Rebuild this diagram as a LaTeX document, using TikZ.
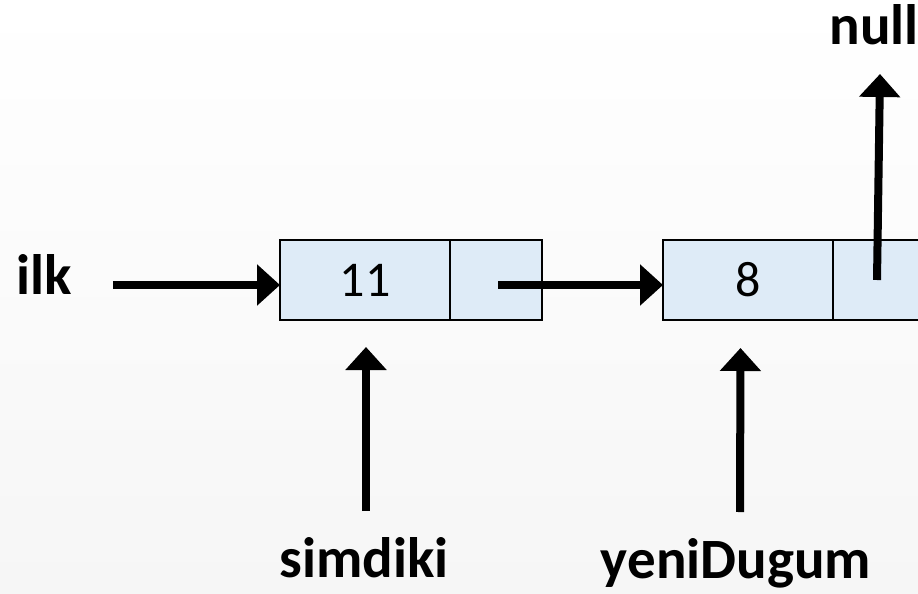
\documentclass[tikz,border=0pt]{standalone}
\usepackage{fontspec}
\setmainfont{Carlito}
\usetikzlibrary{arrows.meta,positioning}
\definecolor{cellblue}{HTML}{DEEBF7}
\definecolor{pagegrey}{HTML}{F6F6F6}

\begin{document}
\begin{tikzpicture}[x=1pt,y=-1pt,
  cell/.style={draw=black,fill=cellblue,line width=2.2pt,minimum height=80pt,inner sep=0pt,outer sep=0pt},
  datacell/.style={cell,minimum width=170pt,font=\fontsize{50}{54}\selectfont},
  linkcell/.style={cell,minimum width=92pt},
  lbl/.style={font=\fontsize{57}{60}\selectfont\bfseries,inner sep=0pt,anchor=base},
  ptr/.style={-{Triangle[length=23pt,width=40pt]},line width=8pt}]
  \useasboundingbox (0,0) rectangle (918,594);
  \shade[top color=white,bottom color=pagegrey] (0,0) rectangle (918,594);
  \clip (0,0) rectangle (918,594);
  % list cells
  \node[datacell] (d1) at (365,280) {\raisebox{-3pt}{11}};
  \node[linkcell,right=0pt of d1] (p1) {};
  \node[datacell,right=121pt of p1] (d2) {\raisebox{-3pt}{8}};
  \node[linkcell,right=0pt of d2] (p2) {};
  % pointer names
  \node[lbl] (ilk) at (44,294) {ilk};
  \node[lbl] (simdiki) at (364,577) {simdiki};
  \node[lbl] (yeni) at (736,578) {yeniDugum};
  \node[lbl] (null) at (874,45) {null};
  \draw[ptr] ([xshift=41pt,yshift=-5pt]ilk.east |- d1.west) -- ([yshift=-5pt]d1.west);
  \draw[ptr] ([xshift=2pt,yshift=-5pt]p1.center) -- ([yshift=-5pt]d2.west);
  \draw[ptr] ([xshift=-2pt]p2.center) -- ([xshift=6pt,yshift=-29pt]null.base);
  \draw[ptr] ([xshift=2pt,yshift=66pt]simdiki.base) -- ([xshift=1pt,yshift=-27pt]d1.south);
  \draw[ptr] ([xshift=4pt,yshift=66pt]yeni.base) -- ([xshift=-7.5pt,yshift=-28pt]d2.south);
\end{tikzpicture}
\end{document}
